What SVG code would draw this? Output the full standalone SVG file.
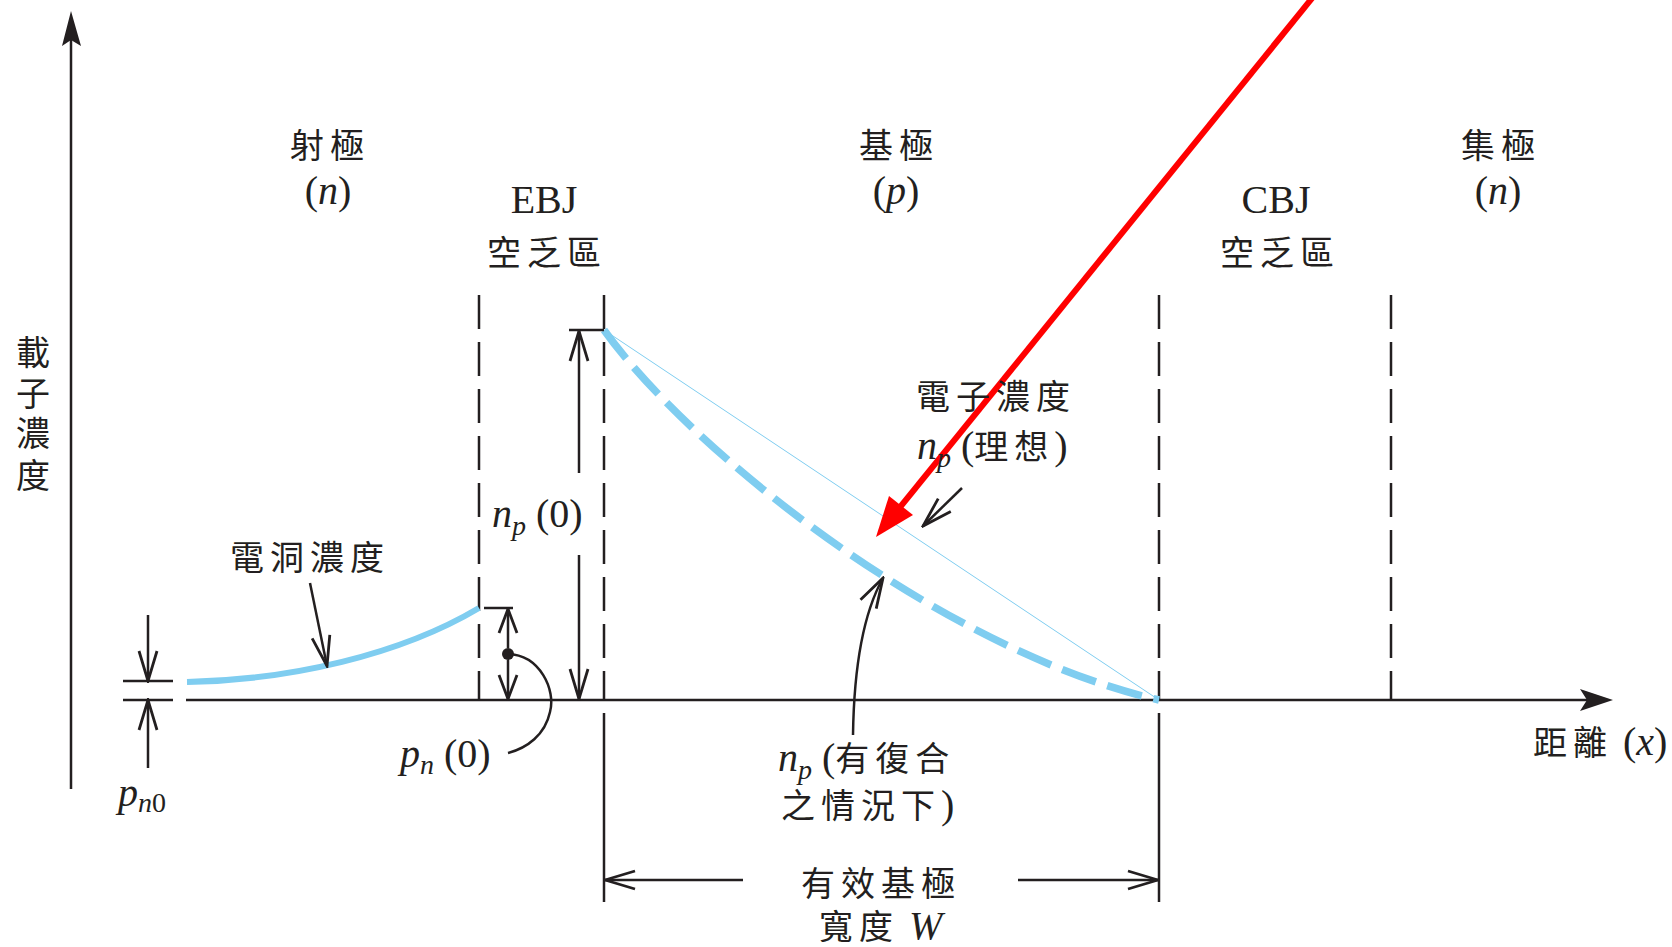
<svg xmlns="http://www.w3.org/2000/svg" width="1672" height="947" viewBox="0 0 1672 947">
<style>
.t{font-family:"Liberation Serif","Noto Sans CJK TC",serif;fill:#231f20;}
.c{font-size:34px;letter-spacing:6px;}
.l{font-size:40px;}
.it{font-style:italic;}
.sub{font-size:28px;}
.ln{stroke:#231f20;stroke-width:2.5;fill:none;}
.dash{stroke:#231f20;stroke-width:2.5;fill:none;stroke-dasharray:34 13;}
.arr{stroke:#231f20;stroke-width:2.5;fill:none;marker-end:url(#ah);}
.blue{stroke:#7fcdf0;fill:none;}
</style>
<defs>
<marker id="ah" viewBox="-32 -12 34 24" refX="0" refY="0" markerWidth="34" markerHeight="24" markerUnits="userSpaceOnUse" orient="auto">
<path d="M-30,-9 L0,0 L-30,9" fill="none" stroke="#231f20" stroke-width="2.8"/>
</marker>
<marker id="ahs" viewBox="-26 -11 28 22" refX="0" refY="0" markerWidth="28" markerHeight="22" markerUnits="userSpaceOnUse" orient="auto">
<path d="M-24,-9 L0,0 L-24,9" fill="none" stroke="#231f20" stroke-width="2.8"/>
</marker>
</defs>
<rect width="1672" height="947" fill="#ffffff"/>

<g id="axes">
<line class="ln" x1="71" y1="789" x2="71" y2="40"/>
<polygon points="71,11 81,46 71,40 62,46" fill="#231f20"/>
<line class="ln" x1="186" y1="700" x2="1590" y2="700"/>
<polygon points="1613,700 1580,689 1587,700 1580,711" fill="#231f20"/>
</g>

<g id="junction-lines">
<line class="dash" x1="479" y1="295" x2="479" y2="700"/>
<line class="dash" x1="604" y1="295" x2="604" y2="700"/>
<line class="dash" x1="1159" y1="295" x2="1159" y2="700"/>
<line class="dash" x1="1391" y1="295" x2="1391" y2="700"/>
<line class="ln" x1="604" y1="713" x2="604" y2="902"/>
<line class="ln" x1="1159" y1="713" x2="1159" y2="902"/>
</g>

<g id="curves">
<path class="blue" stroke-width="6" d="M187,682 C290,680 400,655 479,608"/>
<line class="blue" stroke-width="1" x1="604" y1="330" x2="1159" y2="700"/>
<path class="blue" stroke-width="7.5" stroke-dasharray="36 12" d="M604,330 C690,450 940,650 1159,700"/>
</g>

<g id="connectors">
<line class="ln" x1="123" y1="681" x2="173" y2="681"/>
<line class="ln" x1="123" y1="700" x2="173" y2="700"/>
<line class="arr" x1="148" y1="615" x2="148" y2="681"/>
<line class="arr" x1="148" y1="768" x2="148" y2="700"/>
<line class="arr" x1="310" y1="583" x2="327" y2="666"/>
<line class="ln" x1="484" y1="608" x2="513" y2="608"/>
<line class="ln" x1="508" y1="648" x2="508" y2="609" marker-end="url(#ahs)"/>
<line class="ln" x1="508" y1="660" x2="508" y2="699" marker-end="url(#ahs)"/>
<circle cx="508" cy="654" r="6" fill="#231f20"/>
<path class="ln" d="M508,654 C540,655 556,690 550,712 C545,735 527,748 508,753"/>
<line class="ln" x1="569" y1="330" x2="604" y2="330"/>
<line class="arr" x1="579" y1="473" x2="579" y2="331"/>
<line class="arr" x1="579" y1="555" x2="579" y2="699"/>
<line class="arr" x1="962" y1="488" x2="923" y2="526"/>
<path class="arr" d="M853,735 C854,665 864,612 883,578"/>
<line class="arr" x1="743" y1="880" x2="605" y2="880"/>
<line class="arr" x1="1018" y1="880" x2="1158" y2="880"/>
<line x1="1313" y1="-3" x2="897" y2="511" stroke="#ff0000" stroke-width="6"/>
<polygon points="876,537 913,515 889,496" fill="#ff0000"/>
</g>

<g id="label-emitter">
<text class="t c" x="330" y="158" text-anchor="middle">射極</text>
<text class="t l" x="328" y="204" text-anchor="middle">(<tspan class="it">n</tspan>)</text>
</g>
<g id="label-base">
<text class="t c" x="899" y="158" text-anchor="middle">基極</text>
<text class="t l" x="896" y="204" text-anchor="middle">(<tspan class="it">p</tspan>)</text>
</g>
<g id="label-collector">
<text class="t c" x="1501" y="158" text-anchor="middle">集極</text>
<text class="t l" x="1498" y="204" text-anchor="middle">(<tspan class="it">n</tspan>)</text>
</g>
<g id="label-ebj">
<text class="t l" x="544" y="213" text-anchor="middle">EBJ</text>
<text class="t c" x="547" y="265" text-anchor="middle">空乏區</text>
</g>
<g id="label-cbj">
<text class="t l" x="1276" y="213" text-anchor="middle">CBJ</text>
<text class="t c" x="1280" y="265" text-anchor="middle">空乏區</text>
</g>
<g id="label-yaxis">
<text class="t c" x="33" y="365" text-anchor="middle" style="letter-spacing:0">載</text>
<text class="t c" x="33" y="406" text-anchor="middle" style="letter-spacing:0">子</text>
<text class="t c" x="33" y="446" text-anchor="middle" style="letter-spacing:0">濃</text>
<text class="t c" x="33" y="488" text-anchor="middle" style="letter-spacing:0">度</text>
</g>
<g id="label-xaxis">
<text class="t l" x="1533" y="755"><tspan class="c">距離</tspan> (<tspan class="it">x</tspan>)</text>
</g>
<g id="label-hole">
<text class="t c" x="310" y="570" text-anchor="middle">電洞濃度</text>
</g>
<g id="label-pn0">
<text class="t l" x="118" y="806"><tspan class="it">p</tspan><tspan class="sub" dy="6"><tspan class="it">n</tspan>0</tspan></text>
</g>
<g id="label-pn-zero">
<text class="t l" x="400" y="767"><tspan class="it">p</tspan><tspan class="sub it" dy="7">n</tspan><tspan dy="-7"> (0)</tspan></text>
</g>
<g id="label-np-zero">
<text class="t l" x="492" y="527"><tspan class="it">n</tspan><tspan class="sub it" dy="8">p</tspan><tspan dy="-8"> (0)</tspan></text>
</g>
<g id="label-electron">
<text class="t c" x="996" y="409" text-anchor="middle">電子濃度</text>
<text class="t l" x="917" y="459"><tspan class="it">n</tspan><tspan class="sub it" dy="8">p</tspan><tspan dy="-8"> (</tspan><tspan class="c">理想</tspan>)</text>
</g>
<g id="label-recomb">
<text class="t l" x="778" y="771"><tspan class="it">n</tspan><tspan class="sub it" dy="8">p</tspan><tspan dy="-8"> (</tspan><tspan class="c">有復合</tspan></text>
<text class="t l" x="781" y="818"><tspan class="c">之情況下</tspan>)</text>
</g>
<g id="label-width">
<text class="t c" x="881" y="896" text-anchor="middle">有效基極</text>
<text class="t l" x="819" y="939"><tspan class="c">寬度</tspan> <tspan class="it">W</tspan></text>
</g>
</svg>
